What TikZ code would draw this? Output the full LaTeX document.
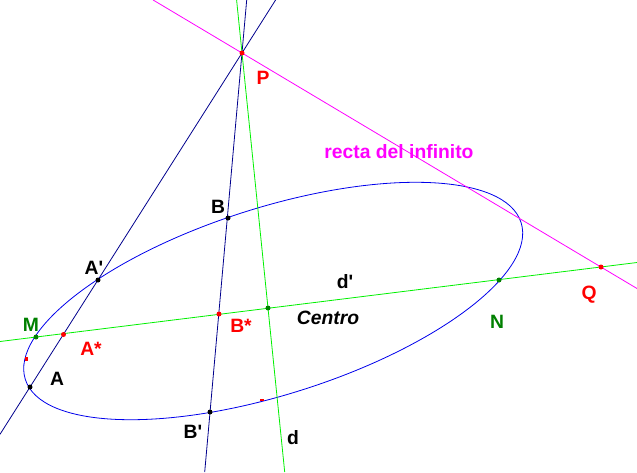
\documentclass[tikz,border=0pt]{standalone}
\usepackage{fontspec}
\setmainfont{Liberation Sans}
\definecolor{navyline}{RGB}{0,0,140}
\definecolor{conic}{RGB}{0,0,235}
\definecolor{lime}{RGB}{0,240,0}
\definecolor{dgreen}{RGB}{0,128,0}
\definecolor{mag}{RGB}{255,0,255}
\newcommand{\prm}{\textquotesingle}
\tikzset{
  pt/.style={circle,fill,inner sep=0pt,minimum size=5pt},
  lbl/.style={font=\fontsize{19.3}{21}\selectfont\bfseries}
}
\begin{document}
\begin{tikzpicture}[x=1pt,y=-1pt]
\useasboundingbox (0,0) rectangle (637,472);
% ends of the lines on the border
\coordinate (pa-top) at (275.6,0);
\coordinate (pa-bot) at (0,434.3);
\coordinate (pb-top) at (246.7,0);
\coordinate (pb-bot) at (204.7,472);
\coordinate (d-top) at (236.6,0);
\coordinate (d-bot) at (284.7,472);
\coordinate (dp-l) at (0,341.5);
\coordinate (dp-r) at (637,262.5);
\coordinate (inf-top) at (153.1,0);
\coordinate (inf-r) at (637,288.5);
% the conic
\draw[conic,line width=0.8pt,rotate around={17.55:(273.2,301)}] (273.2,301) ellipse [x radius=260, y radius=93.5];
% lines
\draw[navyline,line width=0.8pt] (pa-top) -- (pa-bot);
\draw[navyline,line width=0.8pt] (pb-top) -- (pb-bot);
\draw[lime,line width=0.8pt] (d-top) -- (d-bot);
\draw[lime,line width=0.8pt] (dp-l) -- (dp-r);
\draw[mag,line width=0.8pt] (inf-top) -- (inf-r);
% points
\node[pt,red] (P) at (242,53) {};
\node[pt,black] (A) at (30,387) {};
\node[pt,black] (Ap) at (98,280) {};
\node[pt,black] (B) at (228,218) {};
\node[pt,black] (Bp) at (210,412) {};
\node[pt,dgreen] (M) at (36,337) {};
\node[pt,dgreen] (N) at (499,280) {};
\node[pt,red] (As) at (63.5,334.5) {};
\node[pt,red] (Bs) at (219,314) {};
\node[pt,dgreen] (C) at (268,308) {};
\node[pt,red] (Q) at (601,267) {};
\fill[red] (24.5,356.5) rectangle (27.5,360.5);
\fill[red] (259.5,398.5) rectangle (263.5,401);
% labels
\node[lbl,red] (P-l) at (263,78) {P};
\node[lbl,mag] (inf-l) at (399,152) {recta del infinito};
\node[lbl] (B-l) at (218,207) {B};
\node[lbl] (Ap-l) at (94,268) {A\prm};
\node[lbl,dgreen] (M-l) at (31,325) {M};
\node[lbl,red] (As-l) at (91,349) {A*};
\node[lbl] (A-l) at (57,379) {A};
\node[lbl,red] (Bs-l) at (241,326) {B*};
\node[lbl,font=\fontsize{19.3}{21}\selectfont\bfseries\itshape] (C-l) at (328,318) {Centro};
\node[lbl] (dp-l) at (345,282) {d\prm};
\node[lbl,dgreen] (N-l) at (497,322) {N};
\node[lbl,red] (Q-l) at (589,295) {Q};
\node[lbl] (Bp-l) at (193,432) {B\prm};
\node[lbl] (d-l) at (293,438) {d};
\end{tikzpicture}
\end{document}
